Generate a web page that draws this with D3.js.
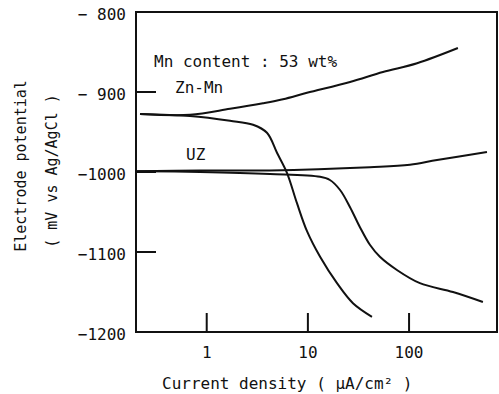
<!DOCTYPE html>
<html>
<head>
<meta charset="utf-8">
<script src="https://cdn.jsdelivr.net/npm/d3@7"></script>
<style>
  body { margin: 0; background: #fff; }
  text { font-family: "DejaVu Sans Mono", monospace; fill: #111; }
</style>
</head>
<body>
<div id="chart"></div>
<script>
// polarization curves, current density (uA/cm2) vs potential (mV vs Ag/AgCl)
var znMnAnodicI = [0.219, 0.684, 1.70, 3.60, 5.67, 9.8, 26.1, 55.2, 120, 304];
var znMnAnodicE = [-927.5, -928.5, -921, -914, -909, -901, -887.5, -875, -864, -845];

var znMnCathodicI = [0.219, 0.684, 1.70, 2.87, 3.94, 4.95, 6.21, 7.80, 9.8, 13.2, 19.4, 27.9, 43.0];
var znMnCathodicE = [-927.5, -930, -936, -941, -951, -976, -1001, -1039, -1074, -1106, -1139, -1164, -1181];

var uzAnodicI = [0.205, 0.86, 4.22, 41, 102, 189, 589];
var uzAnodicE = [-999, -998, -998, -994, -991, -985, -975];

var uzCathodicI = [0.205, 0.86, 4.22, 13.2, 16.5, 20.8, 26.1, 32.7, 41.0, 51.5, 75.9, 128, 272, 537];
var uzCathodicE = [-999, -1000, -1002.5, -1006, -1010, -1022.5, -1044, -1069, -1091, -1106, -1122.5, -1139, -1150, -1162.5];

var xTicks = [1, 10, 100];
var xTickLabels = ["1", "10", "100"];
var yTicks = [-800, -900, -1000, -1100, -1200];
var yTickLabels = ["\u2212 800", "\u2212 900", "\u22121000", "\u22121100", "\u22121200"];
var yInnerTicks = [-900, -1000, -1100];

var svgWidth = 499, svgHeight = 394;
var plot = { left: 136, right: 497, top: 12, bottom: 332 };

var svg = d3.select("#chart")
    .append("svg")
    .attr("width", svgWidth)
    .attr("height", svgHeight);

var xScale = d3.scaleLog()
    .domain([0.2, 740])
    .range([plot.left, plot.right]);

var yScale = d3.scaleLinear()
    .domain([-1200, -800])
    .range([plot.bottom, plot.top]);

function zipPts(xs, ys) {
    return xs.map((d, i) => ({ i: d, e: ys[i] }));
}

var series = [
    zipPts(znMnAnodicI, znMnAnodicE),
    zipPts(znMnCathodicI, znMnCathodicE),
    zipPts(uzAnodicI, uzAnodicE),
    zipPts(uzCathodicI, uzCathodicE)
];

// frame
svg.append("rect")
    .attr("x", plot.left)
    .attr("y", plot.top)
    .attr("width", plot.right - plot.left)
    .attr("height", plot.bottom - plot.top)
    .attr("fill", "none")
    .attr("stroke", "#111")
    .attr("stroke-width", 2);

// y ticks (inside) and labels
svg.selectAll(".ytick")
    .data(yInnerTicks)
    .join("line")
    .attr("class", "ytick")
    .attr("x1", plot.left)
    .attr("x2", plot.left + 20)
    .attr("y1", d => yScale(d))
    .attr("y2", d => yScale(d))
    .attr("stroke", "#111")
    .attr("stroke-width", 2);

svg.selectAll(".ylab")
    .data(yTicks)
    .join("text")
    .attr("class", "ylab")
    .attr("x", 126)
    .attr("y", d => yScale(d) + 2)
    .attr("dy", "0.35em")
    .attr("text-anchor", "end")
    .style("font-size", "16px")
    .text((d, i) => yTickLabels[i]);

// x ticks (pointing up) and labels
svg.selectAll(".xtick")
    .data(xTicks)
    .join("line")
    .attr("class", "xtick")
    .attr("x1", d => xScale(d))
    .attr("x2", d => xScale(d))
    .attr("y1", plot.bottom)
    .attr("y2", plot.bottom - 19)
    .attr("stroke", "#111")
    .attr("stroke-width", 2);

svg.selectAll(".xlab")
    .data(xTicks)
    .join("text")
    .attr("class", "xlab")
    .attr("x", d => xScale(d))
    .attr("y", 358)
    .attr("text-anchor", "middle")
    .style("font-size", "16px")
    .text((d, i) => xTickLabels[i]);

// curves
var line = d3.line()
    .x(d => xScale(d.i))
    .y(d => yScale(d.e))
    .curve(d3.curveCatmullRom.alpha(0.5));

svg.selectAll(".curve")
    .data(series)
    .join("path")
    .attr("class", "curve")
    .attr("d", line)
    .attr("fill", "none")
    .attr("stroke", "#111")
    .attr("stroke-width", 2);

// annotations
svg.append("text")
    .attr("x", 154).attr("y", 67)
    .style("font-size", "16px")
    .text("Mn content : 53 wt%");

svg.append("text")
    .attr("x", 175).attr("y", 93)
    .style("font-size", "16px")
    .text("Zn-Mn");

svg.append("text")
    .attr("x", 186).attr("y", 160)
    .style("font-size", "16px")
    .text("UZ");

// axis titles
svg.append("text")
    .attr("x", 162).attr("y", 389)
    .style("font-size", "16px")
    .text("Current density ( \u03bcA/cm\u00b2 )");

svg.append("text")
    .attr("transform", "translate(26,166) rotate(-90)")
    .attr("text-anchor", "middle")
    .style("font-size", "15px")
    .text("Electrode potential");

svg.append("text")
    .attr("transform", "translate(57,171) rotate(-90)")
    .attr("text-anchor", "middle")
    .style("font-size", "15px")
    .text("( mV vs Ag/AgCl )");
</script>
</body>
</html>
